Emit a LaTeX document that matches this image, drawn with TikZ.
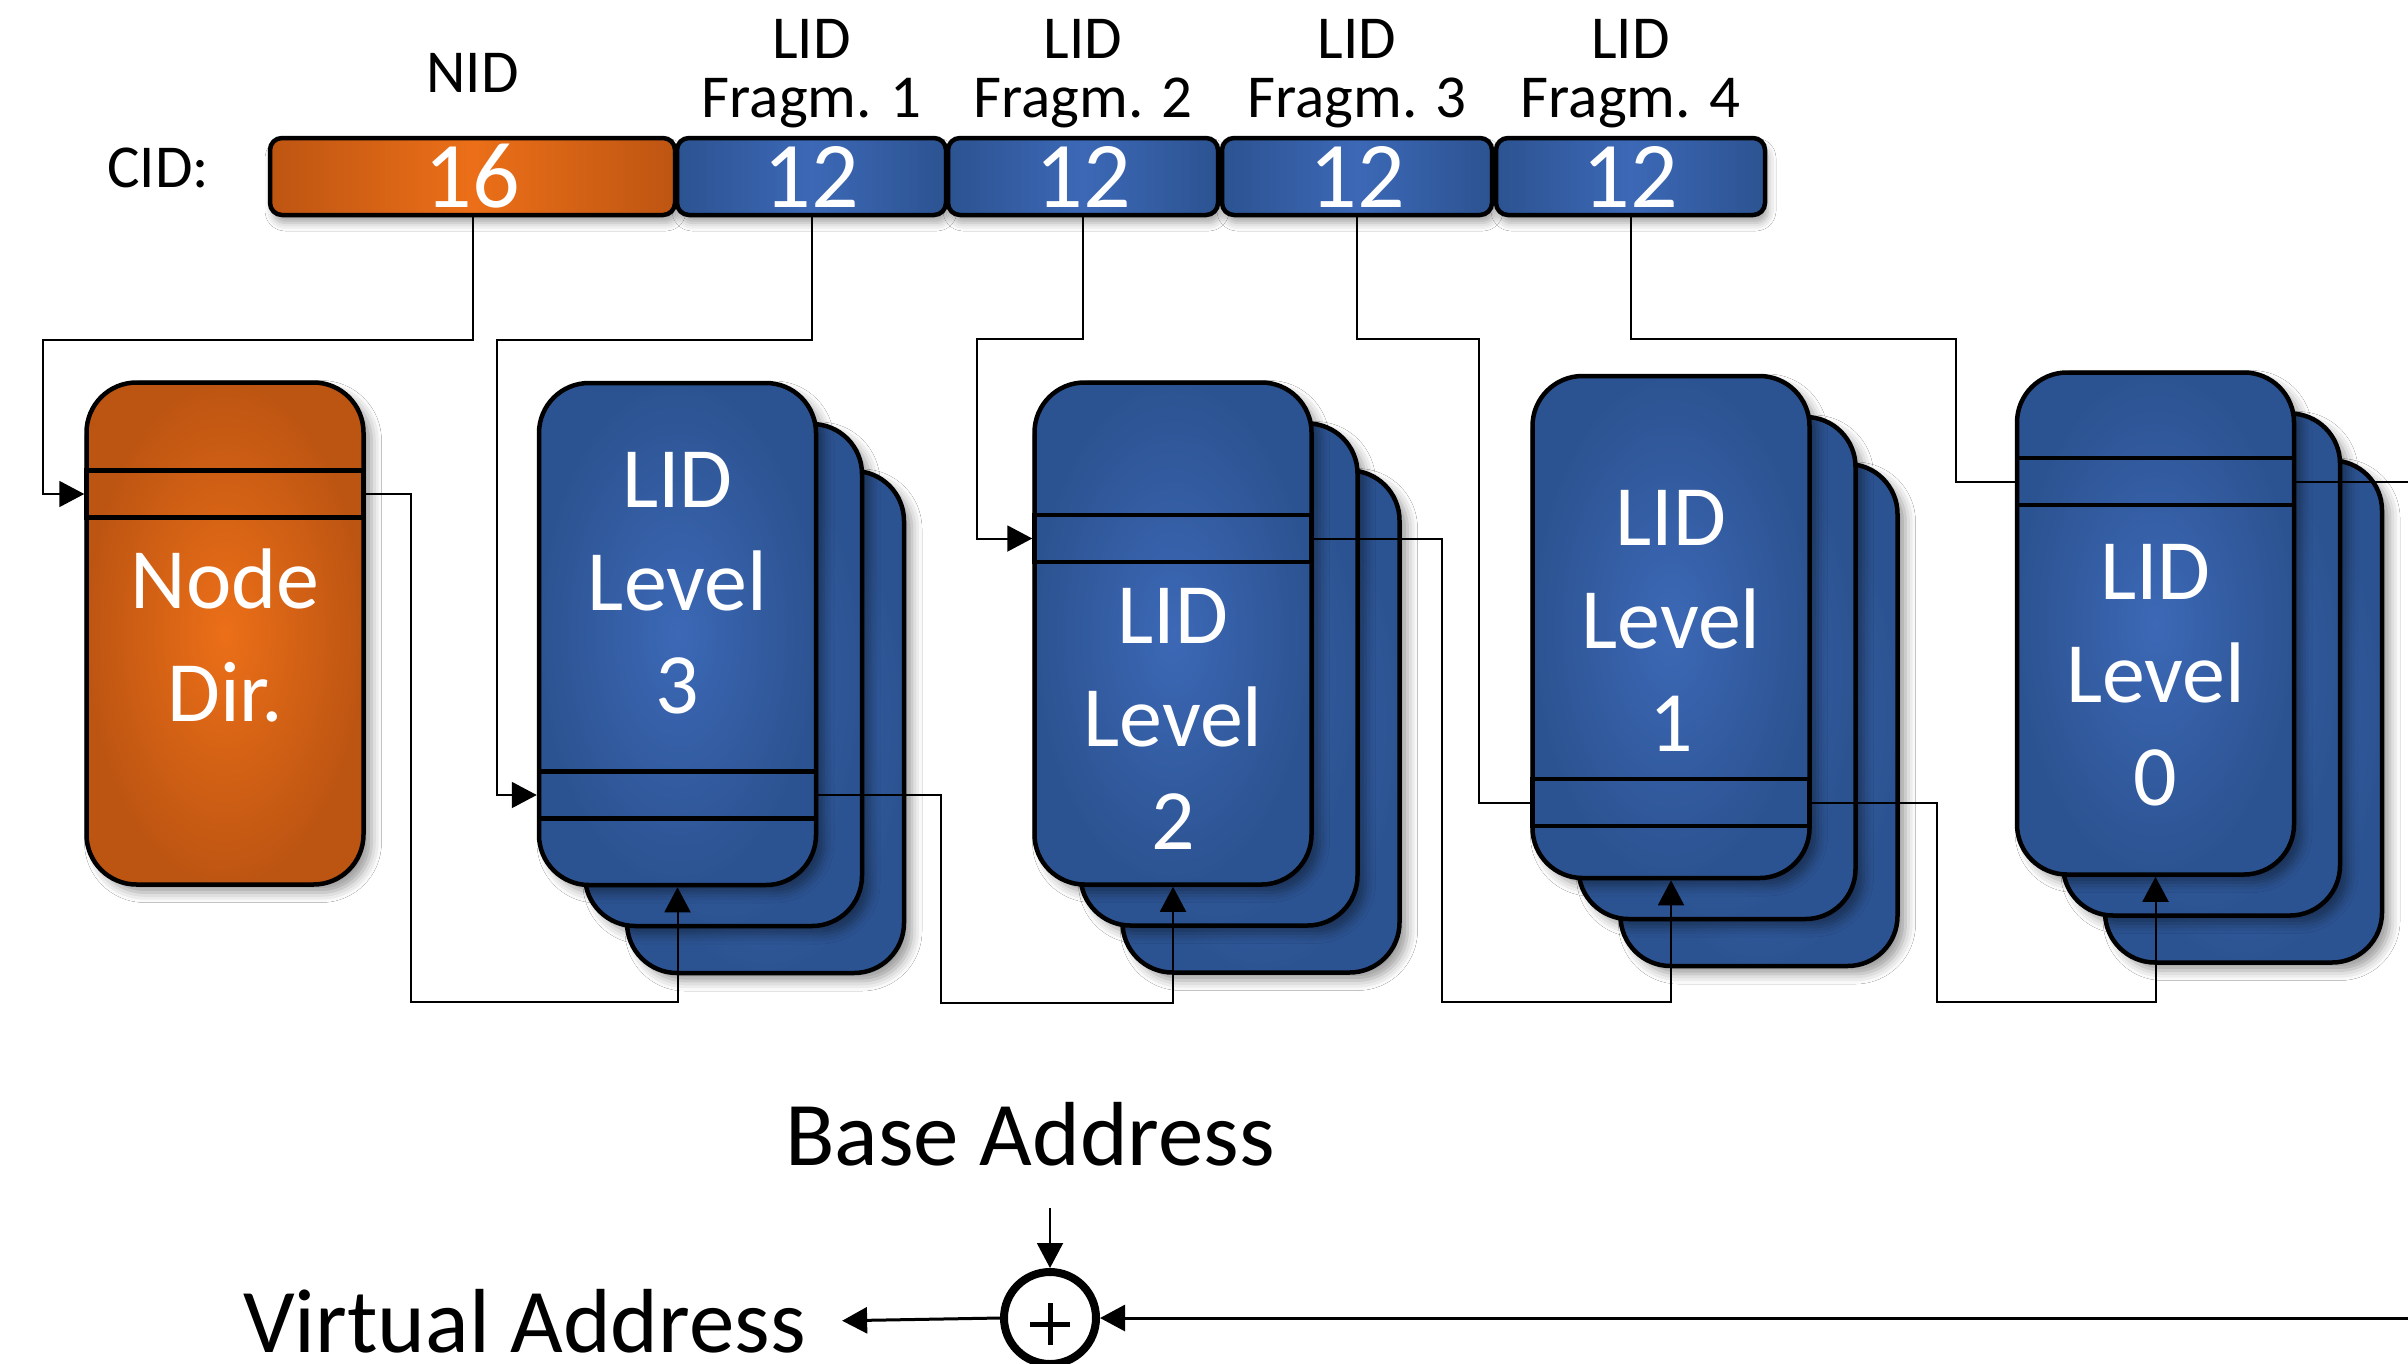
\documentclass[tikz,border=0pt]{standalone}
\usepackage{fontspec}
\setmainfont{Carlito}
\usetikzlibrary{arrows.meta,shadows.blur}

\definecolor{bEdge}{HTML}{2C5391}
\definecolor{bMid}{HTML}{3C68B6}
\definecolor{oEdge}{HTML}{BD5512}
\definecolor{oMid}{HTML}{EC6F18}

\tikzset{
 bar/.style={draw=black, line width=4.5pt, rounded corners=12pt, minimum height=77pt, inner sep=0pt, text=white,
   font=\fontsize{94}{94}\selectfont,
   blur shadow={shadow xshift=3pt, shadow yshift=-8pt, shadow blur radius=8pt, shadow opacity=35}},
 obar/.style={bar, left color=oEdge, right color=oEdge, middle color=oMid},
 bbar/.style={bar, left color=bEdge, right color=bEdge, middle color=bMid},
 tbl/.style={draw=black, line width=4.5pt, rounded corners=50pt, minimum width=277pt, minimum height=502pt, inner sep=0pt,
   blur shadow={shadow xshift=8pt, shadow yshift=-8pt, shadow blur radius=10pt, shadow opacity=40}},
 btbl/.style={tbl, inner color=bMid, outer color=bEdge},
 otbl/.style={tbl, inner color=oMid, outer color=oEdge},
 band/.style={draw=black, line width=4.5pt, minimum width=277pt, minimum height=47pt, inner sep=0pt},
 intext/.style={text=white, align=center, font=\fontsize{86}{103}\selectfont, inner sep=0pt},
 lbl/.style={font=\fontsize{61}{61}\selectfont, inner sep=0pt, anchor=base},
 conn/.style={line width=2pt},
 arr/.style={-{Triangle[length=25pt,width=26pt]}},
 big/.style={font=\fontsize{91}{91}\selectfont, anchor=base},
}

\newcommand\lidstack[6]{%
  \node[btbl] (#1s2) at (#2+88,#3+88) {};
  \node[btbl] (#1s1) at (#2+46,#3+41) {};
  \node[btbl] (#1) at (#2,#3) {};
  \node[band] (#1b) at (#2,#4) {};
  \node[intext] (#1t) at (#2,#5) {LID\\Level\\#6};
}

\begin{document}
\begin{tikzpicture}[x=1pt,y=-1pt]
\path[use as bounding box, fill=white] (0,0) rectangle (2408,1363);

% header labels
\node[lbl, anchor=base west] (cid) at (107,187) {CID:};
\node[lbl] (nidl) at (472.5,92) {NID};
\node[lbl] (lid1) at (811.5,58) {LID};
\node[lbl] (fr1) at (811.5,117) {Fragm. 1};
\node[lbl] (lid2) at (1083,58) {LID};
\node[lbl] (fr2) at (1083,117) {Fragm. 2};
\node[lbl] (lid3) at (1357,58) {LID};
\node[lbl] (fr3) at (1357,117) {Fragm. 3};
\node[lbl] (lid4) at (1630.5,58) {LID};
\node[lbl] (fr4) at (1630.5,117) {Fragm. 4};

% CID bars
\node[obar, minimum width=405pt] (nid) at (472.5,176.5) {16};
\node[bbar, minimum width=269pt] (f1) at (811.5,176.5) {12};
\node[bbar, minimum width=270pt] (f2) at (1083,176.5) {12};
\node[bbar, minimum width=270pt] (f3) at (1357,176.5) {12};
\node[bbar, minimum width=269pt] (f4) at (1630.5,176.5) {12};

% node directory
\node[otbl] (nd) at (225,633.5) {};
\node[band] (ndb) at (225,494) {};
\node[intext, font=\fontsize{86}{113}\selectfont] (ndt) at (225,635) {Node\\Dir.};

% LID tables
\lidstack{l3}{677.5}{634}{795}{583}{3}
\lidstack{l2}{1173}{633.5}{538.5}{719}{2}
\lidstack{l1}{1671}{627}{802.5}{621}{1}
\lidstack{l0}{2155.5}{623.5}{481.5}{675}{0}

% bottom
\node[big, inner xsep=0pt, inner ysep=42pt] (ba) at (1030,1165) {Base Address};
\node[circle, draw, line width=8pt, minimum size=92pt, inner sep=0pt,
  path picture={
    \draw[line width=5pt] ([xshift=-20pt,yshift=-6pt]path picture bounding box.center) -- ([xshift=20pt,yshift=-6pt]path picture bounding box.center);
    \draw[line width=5pt] ([yshift=15pt]path picture bounding box.center) -- ([yshift=-27pt]path picture bounding box.center);
  }] (plus) at (1050,1318) {};
\node[big, inner xsep=36pt, inner ysep=0pt] (va) at (524.5,1352) {Virtual Address};
\coordinate (outR) at (2410,481.5);
\coordinate (inR) at (2410,1318);

% connectors
\draw[conn,arr] (nid.south) |- (43,340) |- (ndb.west);
\draw[conn,arr] (ndb.east) -| (411,1002) -| (l3.south);
\draw[conn,arr] (f1.south) |- (497,340) |- (l3b.west);
\draw[conn,arr] (l3b.east) -| (941,1003) -| (l2.south);
\draw[conn,arr] (f2.south) |- (977,339) |- (l2b.west);
\draw[conn,arr] (l2b.east) -| (1442,1002) -| (l1.south);
\draw[conn] (f3.south) |- (1479,339) |- (l1b.west);
\draw[conn,arr] (l1b.east) -| (1937,1002) -| (l0.south);
\draw[conn] (f4.south) |- (1956,339) |- (l0b.west);
\draw[conn] (l0b.east) -- (outR);
\draw[line width=3pt,arr] (inR) -- (plus.east);
\draw[conn,arr] (ba.south -| plus.north) -- (plus.north);
\draw[line width=3pt,arr] (plus.west) -- (va.east);
\end{tikzpicture}
\end{document}
